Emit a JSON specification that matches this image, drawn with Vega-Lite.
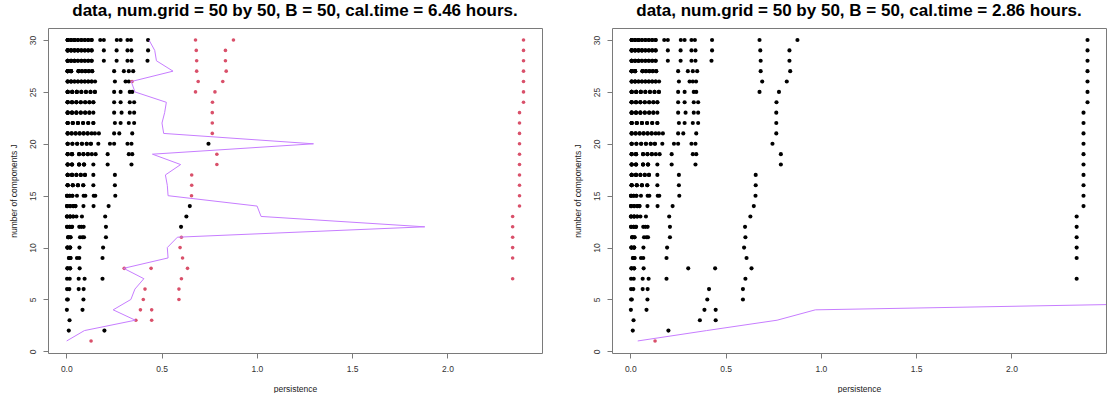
{
"$schema": "https://vega.github.io/schema/vega-lite/v6.json",
"padding": {"left": 8, "top": 1, "right": 0, "bottom": 0},
"spacing": 70,
"bounds": "flush",
"config": {
 "view": {"stroke": "#7a7a7a", "strokeWidth": 1},
 "font": "Liberation Sans",
 "axis": {"grid": false, "domain": false, "tickColor": "#7a7a7a", "tickSize": 5, "labelFont": "Liberation Sans", "labelFontSize": 8.5, "labelColor": "#333333", "titleFont": "Liberation Sans", "titleFontSize": 8.5, "titleFontWeight": "normal", "titleColor": "#222222"},
 "title": {"font": "Liberation Sans", "fontSize": 17, "fontWeight": "bold", "color": "#000000", "offset": 8}
},
"datasets": {
"thrL": [
{"J":1,"p":0.002},{"J":2,"p":0.095},{"J":3,"p":0.362},{"J":4,"p":0.246},{"J":5,"p":0.339},{"J":6,"p":0.36},{"J":7,"p":0.407},{"J":8,"p":0.301},{"J":9,"p":0.534},{"J":10,"p":0.53},{"J":11,"p":0.583},{"J":12,"p":1.881},{"J":13,"p":1.022},{"J":14,"p":1.001},{"J":15,"p":0.534},{"J":16,"p":0.53},{"J":17,"p":0.52},{"J":18,"p":0.6},{"J":19,"p":0.452},{"J":20,"p":1.297},{"J":21,"p":0.511},{"J":22,"p":0.502},{"J":23,"p":0.516},{"J":24,"p":0.525},{"J":25,"p":0.36},{"J":26,"p":0.341},{"J":27,"p":0.56},{"J":28,"p":0.473},{"J":29,"p":0.464},{"J":30,"p":0.434}
],
"thrR": [
{"J":1,"p":0.039},{"J":2,"p":0.40},{"J":3,"p":0.77},{"J":4,"p":0.971},{"J":5,"p":4.0}
],
"pts": [
{"J":1,"p":0.130,"sigL":1,"sigR":1},
{"J":2,"p":0.013,"sigL":0,"sigR":0},{"J":2,"p":0.200,"sigL":0,"sigR":0},
{"J":3,"p":0.017,"sigL":0,"sigR":0},{"J":3,"p":0.365,"sigL":1,"sigR":0},{"J":3,"p":0.448,"sigL":1,"sigR":0},
{"J":4,"p":0.003,"sigL":0,"sigR":0},{"J":4,"p":0.085,"sigL":0,"sigR":0},{"J":4,"p":0.389,"sigL":1,"sigR":0},{"J":4,"p":0.448,"sigL":1,"sigR":0},
{"J":5,"p":0.004,"sigL":0,"sigR":0},{"J":5,"p":0.008,"sigL":0,"sigR":0},{"J":5,"p":0.090,"sigL":0,"sigR":0},{"J":5,"p":0.404,"sigL":1,"sigR":0},{"J":5,"p":0.591,"sigL":1,"sigR":0},
{"J":6,"p":0.004,"sigL":0,"sigR":0},{"J":6,"p":0.016,"sigL":0,"sigR":0},{"J":6,"p":0.065,"sigL":0,"sigR":0},{"J":6,"p":0.091,"sigL":0,"sigR":0},{"J":6,"p":0.413,"sigL":1,"sigR":0},{"J":6,"p":0.591,"sigL":1,"sigR":0},
{"J":7,"p":0.004,"sigL":0,"sigR":0},{"J":7,"p":0.018,"sigL":0,"sigR":0},{"J":7,"p":0.065,"sigL":0,"sigR":0},{"J":7,"p":0.096,"sigL":0,"sigR":0},{"J":7,"p":0.190,"sigL":0,"sigR":0},{"J":7,"p":0.604,"sigL":1,"sigR":0},{"J":7,"p":2.342,"sigL":1,"sigR":0},
{"J":8,"p":0.006,"sigL":0,"sigR":0},{"J":8,"p":0.006,"sigL":0,"sigR":0},{"J":8,"p":0.020,"sigL":0,"sigR":0},{"J":8,"p":0.020,"sigL":0,"sigR":0},{"J":8,"p":0.070,"sigL":0,"sigR":0},{"J":8,"p":0.304,"sigL":1,"sigR":0},{"J":8,"p":0.445,"sigL":1,"sigR":0},{"J":8,"p":0.636,"sigL":1,"sigR":0},
{"J":9,"p":0.014,"sigL":0,"sigR":0},{"J":9,"p":0.014,"sigL":0,"sigR":0},{"J":9,"p":0.022,"sigL":0,"sigR":0},{"J":9,"p":0.022,"sigL":0,"sigR":0},{"J":9,"p":0.056,"sigL":0,"sigR":0},{"J":9,"p":0.068,"sigL":0,"sigR":0},{"J":9,"p":0.190,"sigL":0,"sigR":0},{"J":9,"p":0.610,"sigL":1,"sigR":0},{"J":9,"p":2.342,"sigL":1,"sigR":0},
{"J":10,"p":0.006,"sigL":0,"sigR":0},{"J":10,"p":0.006,"sigL":0,"sigR":0},{"J":10,"p":0.006,"sigL":0,"sigR":0},{"J":10,"p":0.020,"sigL":0,"sigR":0},{"J":10,"p":0.020,"sigL":0,"sigR":0},{"J":10,"p":0.020,"sigL":0,"sigR":0},{"J":10,"p":0.069,"sigL":0,"sigR":0},{"J":10,"p":0.193,"sigL":0,"sigR":0},{"J":10,"p":0.597,"sigL":1,"sigR":0},{"J":10,"p":2.342,"sigL":1,"sigR":0},
{"J":11,"p":0.010,"sigL":0,"sigR":0},{"J":11,"p":0.010,"sigL":0,"sigR":0},{"J":11,"p":0.010,"sigL":0,"sigR":0},{"J":11,"p":0.022,"sigL":0,"sigR":0},{"J":11,"p":0.022,"sigL":0,"sigR":0},{"J":11,"p":0.072,"sigL":0,"sigR":0},{"J":11,"p":0.085,"sigL":0,"sigR":0},{"J":11,"p":0.093,"sigL":0,"sigR":0},{"J":11,"p":0.208,"sigL":0,"sigR":0},{"J":11,"p":0.604,"sigL":1,"sigR":0},{"J":11,"p":2.342,"sigL":1,"sigR":0},
{"J":12,"p":0.004,"sigL":0,"sigR":0},{"J":12,"p":0.004,"sigL":0,"sigR":0},{"J":12,"p":0.018,"sigL":0,"sigR":0},{"J":12,"p":0.018,"sigL":0,"sigR":0},{"J":12,"p":0.030,"sigL":0,"sigR":0},{"J":12,"p":0.030,"sigL":0,"sigR":0},{"J":12,"p":0.068,"sigL":0,"sigR":0},{"J":12,"p":0.079,"sigL":0,"sigR":0},{"J":12,"p":0.091,"sigL":0,"sigR":0},{"J":12,"p":0.208,"sigL":0,"sigR":0},{"J":12,"p":0.602,"sigL":0,"sigR":0},{"J":12,"p":2.342,"sigL":1,"sigR":0},
{"J":13,"p":0.004,"sigL":0,"sigR":0},{"J":13,"p":0.004,"sigL":0,"sigR":0},{"J":13,"p":0.004,"sigL":0,"sigR":0},{"J":13,"p":0.020,"sigL":0,"sigR":0},{"J":13,"p":0.020,"sigL":0,"sigR":0},{"J":13,"p":0.020,"sigL":0,"sigR":0},{"J":13,"p":0.036,"sigL":0,"sigR":0},{"J":13,"p":0.036,"sigL":0,"sigR":0},{"J":13,"p":0.053,"sigL":0,"sigR":0},{"J":13,"p":0.082,"sigL":0,"sigR":0},{"J":13,"p":0.204,"sigL":0,"sigR":0},{"J":13,"p":0.630,"sigL":0,"sigR":0},{"J":13,"p":2.342,"sigL":1,"sigR":0},
{"J":14,"p":0.004,"sigL":0,"sigR":0},{"J":14,"p":0.004,"sigL":0,"sigR":0},{"J":14,"p":0.004,"sigL":0,"sigR":0},{"J":14,"p":0.020,"sigL":0,"sigR":0},{"J":14,"p":0.020,"sigL":0,"sigR":0},{"J":14,"p":0.036,"sigL":0,"sigR":0},{"J":14,"p":0.036,"sigL":0,"sigR":0},{"J":14,"p":0.048,"sigL":0,"sigR":0},{"J":14,"p":0.048,"sigL":0,"sigR":0},{"J":14,"p":0.090,"sigL":0,"sigR":0},{"J":14,"p":0.143,"sigL":0,"sigR":0},{"J":14,"p":0.222,"sigL":0,"sigR":0},{"J":14,"p":0.648,"sigL":0,"sigR":0},{"J":14,"p":2.378,"sigL":1,"sigR":0},
{"J":15,"p":0.004,"sigL":0,"sigR":0},{"J":15,"p":0.004,"sigL":0,"sigR":0},{"J":15,"p":0.004,"sigL":0,"sigR":0},{"J":15,"p":0.018,"sigL":0,"sigR":0},{"J":15,"p":0.018,"sigL":0,"sigR":0},{"J":15,"p":0.032,"sigL":0,"sigR":0},{"J":15,"p":0.032,"sigL":0,"sigR":0},{"J":15,"p":0.056,"sigL":0,"sigR":0},{"J":15,"p":0.091,"sigL":0,"sigR":0},{"J":15,"p":0.100,"sigL":0,"sigR":0},{"J":15,"p":0.144,"sigL":0,"sigR":0},{"J":15,"p":0.152,"sigL":0,"sigR":0},{"J":15,"p":0.257,"sigL":0,"sigR":0},{"J":15,"p":0.657,"sigL":1,"sigR":0},{"J":15,"p":2.378,"sigL":1,"sigR":0},
{"J":16,"p":0.007,"sigL":0,"sigR":0},{"J":16,"p":0.007,"sigL":0,"sigR":0},{"J":16,"p":0.007,"sigL":0,"sigR":0},{"J":16,"p":0.007,"sigL":0,"sigR":0},{"J":16,"p":0.034,"sigL":0,"sigR":0},{"J":16,"p":0.034,"sigL":0,"sigR":0},{"J":16,"p":0.034,"sigL":0,"sigR":0},{"J":16,"p":0.061,"sigL":0,"sigR":0},{"J":16,"p":0.061,"sigL":0,"sigR":0},{"J":16,"p":0.061,"sigL":0,"sigR":0},{"J":16,"p":0.089,"sigL":0,"sigR":0},{"J":16,"p":0.089,"sigL":0,"sigR":0},{"J":16,"p":0.142,"sigL":0,"sigR":0},{"J":16,"p":0.255,"sigL":0,"sigR":0},{"J":16,"p":0.658,"sigL":1,"sigR":0},{"J":16,"p":2.378,"sigL":1,"sigR":0},
{"J":17,"p":0.007,"sigL":0,"sigR":0},{"J":17,"p":0.007,"sigL":0,"sigR":0},{"J":17,"p":0.007,"sigL":0,"sigR":0},{"J":17,"p":0.007,"sigL":0,"sigR":0},{"J":17,"p":0.030,"sigL":0,"sigR":0},{"J":17,"p":0.030,"sigL":0,"sigR":0},{"J":17,"p":0.030,"sigL":0,"sigR":0},{"J":17,"p":0.053,"sigL":0,"sigR":0},{"J":17,"p":0.053,"sigL":0,"sigR":0},{"J":17,"p":0.076,"sigL":0,"sigR":0},{"J":17,"p":0.076,"sigL":0,"sigR":0},{"J":17,"p":0.098,"sigL":0,"sigR":0},{"J":17,"p":0.098,"sigL":0,"sigR":0},{"J":17,"p":0.142,"sigL":0,"sigR":0},{"J":17,"p":0.255,"sigL":0,"sigR":0},{"J":17,"p":0.658,"sigL":1,"sigR":0},{"J":17,"p":2.378,"sigL":1,"sigR":0},
{"J":18,"p":0.007,"sigL":0,"sigR":0},{"J":18,"p":0.007,"sigL":0,"sigR":0},{"J":18,"p":0.007,"sigL":0,"sigR":0},{"J":18,"p":0.007,"sigL":0,"sigR":0},{"J":18,"p":0.030,"sigL":0,"sigR":0},{"J":18,"p":0.030,"sigL":0,"sigR":0},{"J":18,"p":0.030,"sigL":0,"sigR":0},{"J":18,"p":0.067,"sigL":0,"sigR":0},{"J":18,"p":0.067,"sigL":0,"sigR":0},{"J":18,"p":0.067,"sigL":0,"sigR":0},{"J":18,"p":0.093,"sigL":0,"sigR":0},{"J":18,"p":0.093,"sigL":0,"sigR":0},{"J":18,"p":0.093,"sigL":0,"sigR":0},{"J":18,"p":0.142,"sigL":0,"sigR":0},{"J":18,"p":0.217,"sigL":0,"sigR":0},{"J":18,"p":0.342,"sigL":0,"sigR":0},{"J":18,"p":0.790,"sigL":1,"sigR":0},{"J":18,"p":2.378,"sigL":1,"sigR":0},
{"J":19,"p":0.007,"sigL":0,"sigR":0},{"J":19,"p":0.007,"sigL":0,"sigR":0},{"J":19,"p":0.007,"sigL":0,"sigR":0},{"J":19,"p":0.030,"sigL":0,"sigR":0},{"J":19,"p":0.030,"sigL":0,"sigR":0},{"J":19,"p":0.030,"sigL":0,"sigR":0},{"J":19,"p":0.067,"sigL":0,"sigR":0},{"J":19,"p":0.067,"sigL":0,"sigR":0},{"J":19,"p":0.090,"sigL":0,"sigR":0},{"J":19,"p":0.090,"sigL":0,"sigR":0},{"J":19,"p":0.113,"sigL":0,"sigR":0},{"J":19,"p":0.113,"sigL":0,"sigR":0},{"J":19,"p":0.134,"sigL":0,"sigR":0},{"J":19,"p":0.154,"sigL":0,"sigR":0},{"J":19,"p":0.217,"sigL":0,"sigR":0},{"J":19,"p":0.328,"sigL":0,"sigR":0},{"J":19,"p":0.346,"sigL":0,"sigR":0},{"J":19,"p":0.790,"sigL":1,"sigR":0},{"J":19,"p":2.378,"sigL":1,"sigR":0},
{"J":20,"p":0.007,"sigL":0,"sigR":0},{"J":20,"p":0.007,"sigL":0,"sigR":0},{"J":20,"p":0.007,"sigL":0,"sigR":0},{"J":20,"p":0.032,"sigL":0,"sigR":0},{"J":20,"p":0.032,"sigL":0,"sigR":0},{"J":20,"p":0.057,"sigL":0,"sigR":0},{"J":20,"p":0.057,"sigL":0,"sigR":0},{"J":20,"p":0.082,"sigL":0,"sigR":0},{"J":20,"p":0.082,"sigL":0,"sigR":0},{"J":20,"p":0.107,"sigL":0,"sigR":0},{"J":20,"p":0.107,"sigL":0,"sigR":0},{"J":20,"p":0.129,"sigL":0,"sigR":0},{"J":20,"p":0.129,"sigL":0,"sigR":0},{"J":20,"p":0.168,"sigL":0,"sigR":0},{"J":20,"p":0.229,"sigL":0,"sigR":0},{"J":20,"p":0.251,"sigL":0,"sigR":0},{"J":20,"p":0.321,"sigL":0,"sigR":0},{"J":20,"p":0.342,"sigL":0,"sigR":0},{"J":20,"p":0.746,"sigL":0,"sigR":0},{"J":20,"p":2.378,"sigL":1,"sigR":0},
{"J":21,"p":0.007,"sigL":0,"sigR":0},{"J":21,"p":0.007,"sigL":0,"sigR":0},{"J":21,"p":0.007,"sigL":0,"sigR":0},{"J":21,"p":0.028,"sigL":0,"sigR":0},{"J":21,"p":0.028,"sigL":0,"sigR":0},{"J":21,"p":0.049,"sigL":0,"sigR":0},{"J":21,"p":0.049,"sigL":0,"sigR":0},{"J":21,"p":0.070,"sigL":0,"sigR":0},{"J":21,"p":0.070,"sigL":0,"sigR":0},{"J":21,"p":0.091,"sigL":0,"sigR":0},{"J":21,"p":0.091,"sigL":0,"sigR":0},{"J":21,"p":0.112,"sigL":0,"sigR":0},{"J":21,"p":0.112,"sigL":0,"sigR":0},{"J":21,"p":0.133,"sigL":0,"sigR":0},{"J":21,"p":0.150,"sigL":0,"sigR":0},{"J":21,"p":0.171,"sigL":0,"sigR":0},{"J":21,"p":0.251,"sigL":0,"sigR":0},{"J":21,"p":0.278,"sigL":0,"sigR":0},{"J":21,"p":0.346,"sigL":0,"sigR":0},{"J":21,"p":0.766,"sigL":1,"sigR":0},{"J":21,"p":2.378,"sigL":1,"sigR":0},
{"J":22,"p":0.007,"sigL":0,"sigR":0},{"J":22,"p":0.007,"sigL":0,"sigR":0},{"J":22,"p":0.007,"sigL":0,"sigR":0},{"J":22,"p":0.007,"sigL":0,"sigR":0},{"J":22,"p":0.034,"sigL":0,"sigR":0},{"J":22,"p":0.034,"sigL":0,"sigR":0},{"J":22,"p":0.034,"sigL":0,"sigR":0},{"J":22,"p":0.061,"sigL":0,"sigR":0},{"J":22,"p":0.061,"sigL":0,"sigR":0},{"J":22,"p":0.061,"sigL":0,"sigR":0},{"J":22,"p":0.088,"sigL":0,"sigR":0},{"J":22,"p":0.088,"sigL":0,"sigR":0},{"J":22,"p":0.115,"sigL":0,"sigR":0},{"J":22,"p":0.115,"sigL":0,"sigR":0},{"J":22,"p":0.142,"sigL":0,"sigR":0},{"J":22,"p":0.142,"sigL":0,"sigR":0},{"J":22,"p":0.255,"sigL":0,"sigR":0},{"J":22,"p":0.285,"sigL":0,"sigR":0},{"J":22,"p":0.328,"sigL":0,"sigR":0},{"J":22,"p":0.356,"sigL":0,"sigR":0},{"J":22,"p":0.766,"sigL":1,"sigR":0},{"J":22,"p":2.378,"sigL":1,"sigR":0},
{"J":23,"p":0.007,"sigL":0,"sigR":0},{"J":23,"p":0.007,"sigL":0,"sigR":0},{"J":23,"p":0.007,"sigL":0,"sigR":0},{"J":23,"p":0.007,"sigL":0,"sigR":0},{"J":23,"p":0.030,"sigL":0,"sigR":0},{"J":23,"p":0.030,"sigL":0,"sigR":0},{"J":23,"p":0.030,"sigL":0,"sigR":0},{"J":23,"p":0.053,"sigL":0,"sigR":0},{"J":23,"p":0.053,"sigL":0,"sigR":0},{"J":23,"p":0.053,"sigL":0,"sigR":0},{"J":23,"p":0.076,"sigL":0,"sigR":0},{"J":23,"p":0.076,"sigL":0,"sigR":0},{"J":23,"p":0.099,"sigL":0,"sigR":0},{"J":23,"p":0.099,"sigL":0,"sigR":0},{"J":23,"p":0.121,"sigL":0,"sigR":0},{"J":23,"p":0.121,"sigL":0,"sigR":0},{"J":23,"p":0.142,"sigL":0,"sigR":0},{"J":23,"p":0.251,"sigL":0,"sigR":0},{"J":23,"p":0.290,"sigL":0,"sigR":0},{"J":23,"p":0.333,"sigL":0,"sigR":0},{"J":23,"p":0.356,"sigL":0,"sigR":0},{"J":23,"p":0.766,"sigL":1,"sigR":0},{"J":23,"p":2.378,"sigL":1,"sigR":0},
{"J":24,"p":0.007,"sigL":0,"sigR":0},{"J":24,"p":0.007,"sigL":0,"sigR":0},{"J":24,"p":0.007,"sigL":0,"sigR":0},{"J":24,"p":0.007,"sigL":0,"sigR":0},{"J":24,"p":0.030,"sigL":0,"sigR":0},{"J":24,"p":0.030,"sigL":0,"sigR":0},{"J":24,"p":0.030,"sigL":0,"sigR":0},{"J":24,"p":0.053,"sigL":0,"sigR":0},{"J":24,"p":0.053,"sigL":0,"sigR":0},{"J":24,"p":0.053,"sigL":0,"sigR":0},{"J":24,"p":0.076,"sigL":0,"sigR":0},{"J":24,"p":0.076,"sigL":0,"sigR":0},{"J":24,"p":0.099,"sigL":0,"sigR":0},{"J":24,"p":0.099,"sigL":0,"sigR":0},{"J":24,"p":0.121,"sigL":0,"sigR":0},{"J":24,"p":0.121,"sigL":0,"sigR":0},{"J":24,"p":0.142,"sigL":0,"sigR":0},{"J":24,"p":0.142,"sigL":0,"sigR":0},{"J":24,"p":0.251,"sigL":0,"sigR":0},{"J":24,"p":0.285,"sigL":0,"sigR":0},{"J":24,"p":0.333,"sigL":0,"sigR":0},{"J":24,"p":0.356,"sigL":0,"sigR":0},{"J":24,"p":0.767,"sigL":1,"sigR":0},{"J":24,"p":2.399,"sigL":1,"sigR":0},
{"J":25,"p":0.007,"sigL":0,"sigR":0},{"J":25,"p":0.007,"sigL":0,"sigR":0},{"J":25,"p":0.007,"sigL":0,"sigR":0},{"J":25,"p":0.007,"sigL":0,"sigR":0},{"J":25,"p":0.031,"sigL":0,"sigR":0},{"J":25,"p":0.031,"sigL":0,"sigR":0},{"J":25,"p":0.031,"sigL":0,"sigR":0},{"J":25,"p":0.055,"sigL":0,"sigR":0},{"J":25,"p":0.055,"sigL":0,"sigR":0},{"J":25,"p":0.055,"sigL":0,"sigR":0},{"J":25,"p":0.079,"sigL":0,"sigR":0},{"J":25,"p":0.079,"sigL":0,"sigR":0},{"J":25,"p":0.103,"sigL":0,"sigR":0},{"J":25,"p":0.103,"sigL":0,"sigR":0},{"J":25,"p":0.127,"sigL":0,"sigR":0},{"J":25,"p":0.127,"sigL":0,"sigR":0},{"J":25,"p":0.150,"sigL":0,"sigR":0},{"J":25,"p":0.150,"sigL":0,"sigR":0},{"J":25,"p":0.251,"sigL":0,"sigR":0},{"J":25,"p":0.285,"sigL":0,"sigR":0},{"J":25,"p":0.333,"sigL":0,"sigR":0},{"J":25,"p":0.346,"sigL":0,"sigR":0},{"J":25,"p":0.678,"sigL":1,"sigR":0},{"J":25,"p":0.780,"sigL":1,"sigR":0},{"J":25,"p":2.399,"sigL":1,"sigR":0},
{"J":26,"p":0.007,"sigL":0,"sigR":0},{"J":26,"p":0.007,"sigL":0,"sigR":0},{"J":26,"p":0.007,"sigL":0,"sigR":0},{"J":26,"p":0.025,"sigL":0,"sigR":0},{"J":26,"p":0.025,"sigL":0,"sigR":0},{"J":26,"p":0.025,"sigL":0,"sigR":0},{"J":26,"p":0.043,"sigL":0,"sigR":0},{"J":26,"p":0.043,"sigL":0,"sigR":0},{"J":26,"p":0.061,"sigL":0,"sigR":0},{"J":26,"p":0.061,"sigL":0,"sigR":0},{"J":26,"p":0.079,"sigL":0,"sigR":0},{"J":26,"p":0.079,"sigL":0,"sigR":0},{"J":26,"p":0.097,"sigL":0,"sigR":0},{"J":26,"p":0.097,"sigL":0,"sigR":0},{"J":26,"p":0.115,"sigL":0,"sigR":0},{"J":26,"p":0.115,"sigL":0,"sigR":0},{"J":26,"p":0.133,"sigL":0,"sigR":0},{"J":26,"p":0.133,"sigL":0,"sigR":0},{"J":26,"p":0.151,"sigL":0,"sigR":0},{"J":26,"p":0.255,"sigL":0,"sigR":0},{"J":26,"p":0.311,"sigL":0,"sigR":0},{"J":26,"p":0.328,"sigL":0,"sigR":0},{"J":26,"p":0.345,"sigL":1,"sigR":0},{"J":26,"p":0.692,"sigL":1,"sigR":0},{"J":26,"p":0.821,"sigL":1,"sigR":0},{"J":26,"p":2.399,"sigL":1,"sigR":0},
{"J":27,"p":0.007,"sigL":0,"sigR":0},{"J":27,"p":0.007,"sigL":0,"sigR":0},{"J":27,"p":0.007,"sigL":0,"sigR":0},{"J":27,"p":0.007,"sigL":0,"sigR":0},{"J":27,"p":0.007,"sigL":0,"sigR":0},{"J":27,"p":0.025,"sigL":0,"sigR":0},{"J":27,"p":0.025,"sigL":0,"sigR":0},{"J":27,"p":0.025,"sigL":0,"sigR":0},{"J":27,"p":0.025,"sigL":0,"sigR":0},{"J":27,"p":0.064,"sigL":0,"sigR":0},{"J":27,"p":0.064,"sigL":0,"sigR":0},{"J":27,"p":0.064,"sigL":0,"sigR":0},{"J":27,"p":0.082,"sigL":0,"sigR":0},{"J":27,"p":0.082,"sigL":0,"sigR":0},{"J":27,"p":0.100,"sigL":0,"sigR":0},{"J":27,"p":0.100,"sigL":0,"sigR":0},{"J":27,"p":0.118,"sigL":0,"sigR":0},{"J":27,"p":0.118,"sigL":0,"sigR":0},{"J":27,"p":0.136,"sigL":0,"sigR":0},{"J":27,"p":0.136,"sigL":0,"sigR":0},{"J":27,"p":0.251,"sigL":0,"sigR":0},{"J":27,"p":0.302,"sigL":0,"sigR":0},{"J":27,"p":0.328,"sigL":0,"sigR":0},{"J":27,"p":0.351,"sigL":0,"sigR":0},{"J":27,"p":0.684,"sigL":1,"sigR":0},{"J":27,"p":0.839,"sigL":1,"sigR":0},{"J":27,"p":2.399,"sigL":1,"sigR":0},
{"J":28,"p":0.007,"sigL":0,"sigR":0},{"J":28,"p":0.007,"sigL":0,"sigR":0},{"J":28,"p":0.007,"sigL":0,"sigR":0},{"J":28,"p":0.007,"sigL":0,"sigR":0},{"J":28,"p":0.025,"sigL":0,"sigR":0},{"J":28,"p":0.025,"sigL":0,"sigR":0},{"J":28,"p":0.025,"sigL":0,"sigR":0},{"J":28,"p":0.043,"sigL":0,"sigR":0},{"J":28,"p":0.043,"sigL":0,"sigR":0},{"J":28,"p":0.043,"sigL":0,"sigR":0},{"J":28,"p":0.061,"sigL":0,"sigR":0},{"J":28,"p":0.061,"sigL":0,"sigR":0},{"J":28,"p":0.079,"sigL":0,"sigR":0},{"J":28,"p":0.079,"sigL":0,"sigR":0},{"J":28,"p":0.097,"sigL":0,"sigR":0},{"J":28,"p":0.097,"sigL":0,"sigR":0},{"J":28,"p":0.115,"sigL":0,"sigR":0},{"J":28,"p":0.115,"sigL":0,"sigR":0},{"J":28,"p":0.133,"sigL":0,"sigR":0},{"J":28,"p":0.133,"sigL":0,"sigR":0},{"J":28,"p":0.197,"sigL":0,"sigR":0},{"J":28,"p":0.264,"sigL":0,"sigR":0},{"J":28,"p":0.321,"sigL":0,"sigR":0},{"J":28,"p":0.342,"sigL":0,"sigR":0},{"J":28,"p":0.426,"sigL":0,"sigR":0},{"J":28,"p":0.684,"sigL":1,"sigR":0},{"J":28,"p":0.835,"sigL":1,"sigR":0},{"J":28,"p":2.399,"sigL":1,"sigR":0},
{"J":29,"p":0.007,"sigL":0,"sigR":0},{"J":29,"p":0.007,"sigL":0,"sigR":0},{"J":29,"p":0.007,"sigL":0,"sigR":0},{"J":29,"p":0.007,"sigL":0,"sigR":0},{"J":29,"p":0.025,"sigL":0,"sigR":0},{"J":29,"p":0.025,"sigL":0,"sigR":0},{"J":29,"p":0.025,"sigL":0,"sigR":0},{"J":29,"p":0.043,"sigL":0,"sigR":0},{"J":29,"p":0.043,"sigL":0,"sigR":0},{"J":29,"p":0.043,"sigL":0,"sigR":0},{"J":29,"p":0.061,"sigL":0,"sigR":0},{"J":29,"p":0.061,"sigL":0,"sigR":0},{"J":29,"p":0.061,"sigL":0,"sigR":0},{"J":29,"p":0.079,"sigL":0,"sigR":0},{"J":29,"p":0.079,"sigL":0,"sigR":0},{"J":29,"p":0.097,"sigL":0,"sigR":0},{"J":29,"p":0.097,"sigL":0,"sigR":0},{"J":29,"p":0.115,"sigL":0,"sigR":0},{"J":29,"p":0.115,"sigL":0,"sigR":0},{"J":29,"p":0.133,"sigL":0,"sigR":0},{"J":29,"p":0.133,"sigL":0,"sigR":0},{"J":29,"p":0.197,"sigL":0,"sigR":0},{"J":29,"p":0.264,"sigL":0,"sigR":0},{"J":29,"p":0.321,"sigL":0,"sigR":0},{"J":29,"p":0.342,"sigL":0,"sigR":0},{"J":29,"p":0.429,"sigL":0,"sigR":0},{"J":29,"p":0.682,"sigL":1,"sigR":0},{"J":29,"p":0.835,"sigL":1,"sigR":0},{"J":29,"p":2.399,"sigL":1,"sigR":0},
{"J":30,"p":0.007,"sigL":0,"sigR":0},{"J":30,"p":0.007,"sigL":0,"sigR":0},{"J":30,"p":0.007,"sigL":0,"sigR":0},{"J":30,"p":0.007,"sigL":0,"sigR":0},{"J":30,"p":0.025,"sigL":0,"sigR":0},{"J":30,"p":0.025,"sigL":0,"sigR":0},{"J":30,"p":0.025,"sigL":0,"sigR":0},{"J":30,"p":0.043,"sigL":0,"sigR":0},{"J":30,"p":0.043,"sigL":0,"sigR":0},{"J":30,"p":0.043,"sigL":0,"sigR":0},{"J":30,"p":0.061,"sigL":0,"sigR":0},{"J":30,"p":0.061,"sigL":0,"sigR":0},{"J":30,"p":0.079,"sigL":0,"sigR":0},{"J":30,"p":0.079,"sigL":0,"sigR":0},{"J":30,"p":0.097,"sigL":0,"sigR":0},{"J":30,"p":0.097,"sigL":0,"sigR":0},{"J":30,"p":0.115,"sigL":0,"sigR":0},{"J":30,"p":0.115,"sigL":0,"sigR":0},{"J":30,"p":0.133,"sigL":0,"sigR":0},{"J":30,"p":0.133,"sigL":0,"sigR":0},{"J":30,"p":0.178,"sigL":0,"sigR":0},{"J":30,"p":0.197,"sigL":0,"sigR":0},{"J":30,"p":0.265,"sigL":0,"sigR":0},{"J":30,"p":0.285,"sigL":0,"sigR":0},{"J":30,"p":0.321,"sigL":0,"sigR":0},{"J":30,"p":0.339,"sigL":0,"sigR":0},{"J":30,"p":0.429,"sigL":0,"sigR":0},{"J":30,"p":0.678,"sigL":1,"sigR":0},{"J":30,"p":0.877,"sigL":1,"sigR":0},{"J":30,"p":2.399,"sigL":1,"sigR":0}
]
},
"hconcat": [
{
 "width": 494, "height": 325,
 "title": {"text": "data, num.grid = 50 by 50, B = 50, cal.time = 6.46 hours.", "anchor": "middle"},
 "layer": [
  {"data": {"name": "pts"}, "transform": [{"filter": "datum.sigL == 0"}],
   "mark": {"type": "circle", "color": "#000000", "opacity": 1, "size": 17},
   "encoding": {
    "x": {"field": "p", "type": "quantitative", "scale": {"domain": [-0.096, 2.496], "nice": false, "zero": false},
          "axis": {"values": [0, 0.5, 1, 1.5, 2], "format": ".1f", "title": "persistence", "labelPadding": 6.5, "titleY": 35, "titleBaseline": "middle"}},
    "y": {"field": "J", "type": "quantitative", "scale": {"domain": [-0.16, 31.16], "nice": false, "zero": false},
          "axis": {"values": [0, 5, 10, 15, 20, 25, 30], "title": "number of components J", "labelAngle": 270, "labelAlign": "center", "labelBaseline": "bottom", "labelPadding": 5.5, "titleX": -35, "titleY": 162.5, "titleAngle": 270, "titleAlign": "center", "titleBaseline": "middle"}}
   }},
  {"data": {"name": "pts"}, "transform": [{"filter": "datum.sigL == 1"}],
   "mark": {"type": "circle", "color": "#D9506A", "opacity": 1, "size": 13},
   "encoding": {"x": {"field": "p", "type": "quantitative"}, "y": {"field": "J", "type": "quantitative"}}},
  {"data": {"name": "thrL"},
   "mark": {"type": "line", "color": "#C77DFF", "strokeWidth": 1, "clip": true},
   "encoding": {"x": {"field": "p", "type": "quantitative"}, "y": {"field": "J", "type": "quantitative"}, "order": {"field": "J", "type": "quantitative"}}}
 ]
},
{
 "width": 494, "height": 325,
 "title": {"text": "data, num.grid = 50 by 50, B = 50, cal.time = 2.86 hours.", "anchor": "middle"},
 "layer": [
  {"data": {"name": "pts"}, "transform": [{"filter": "datum.sigR == 0"}],
   "mark": {"type": "circle", "color": "#000000", "opacity": 1, "size": 17},
   "encoding": {
    "x": {"field": "p", "type": "quantitative", "scale": {"domain": [-0.096, 2.496], "nice": false, "zero": false},
          "axis": {"values": [0, 0.5, 1, 1.5, 2], "format": ".1f", "title": "persistence", "labelPadding": 6.5, "titleY": 35, "titleBaseline": "middle"}},
    "y": {"field": "J", "type": "quantitative", "scale": {"domain": [-0.16, 31.16], "nice": false, "zero": false},
          "axis": {"values": [0, 5, 10, 15, 20, 25, 30], "title": "number of components J", "labelAngle": 270, "labelAlign": "center", "labelBaseline": "bottom", "labelPadding": 5.5, "titleX": -35, "titleY": 162.5, "titleAngle": 270, "titleAlign": "center", "titleBaseline": "middle"}}
   }},
  {"data": {"name": "pts"}, "transform": [{"filter": "datum.sigR == 1"}],
   "mark": {"type": "circle", "color": "#D9506A", "opacity": 1, "size": 13},
   "encoding": {"x": {"field": "p", "type": "quantitative"}, "y": {"field": "J", "type": "quantitative"}}},
  {"data": {"name": "thrR"},
   "mark": {"type": "line", "color": "#C77DFF", "strokeWidth": 1, "clip": true},
   "encoding": {"x": {"field": "p", "type": "quantitative"}, "y": {"field": "J", "type": "quantitative"}, "order": {"field": "J", "type": "quantitative"}}}
 ]
}
]
}
